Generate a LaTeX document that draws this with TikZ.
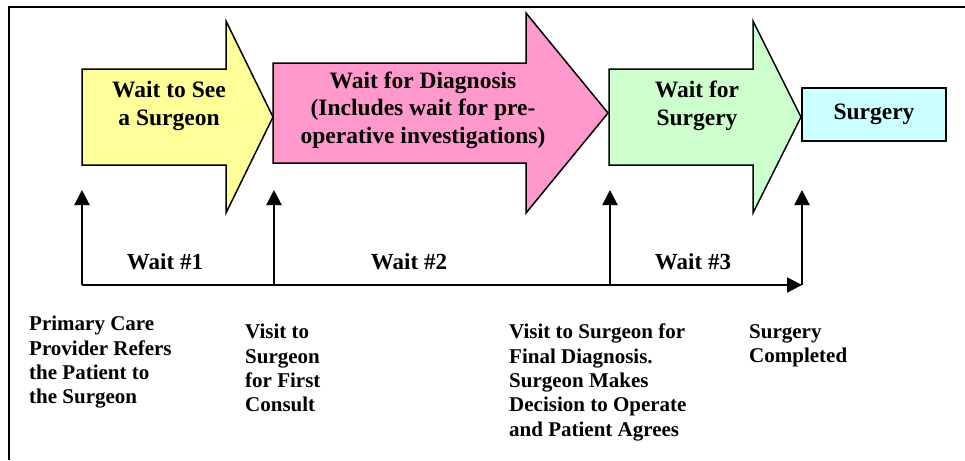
\documentclass[tikz,border=0pt]{standalone}
\usepackage{fontspec}
\setmainfont{Liberation Serif}
\usetikzlibrary{arrows.meta}

\definecolor{seeyellow}{HTML}{FFFF99}
\definecolor{diagpink}{HTML}{FF99CC}
\definecolor{surggreen}{HTML}{CCFFCC}
\definecolor{opcyan}{HTML}{CCFFFF}

\begin{document}
\begin{tikzpicture}[
    x=1pt, y=-1pt,
    stage/.style={
        draw=black, line width=1.5pt,
        line join=miter
    },
    stagetext/.style={
        align=center, inner sep=0pt,
        font=\fontsize{23.5}{27.5}\selectfont\bfseries
    },
    eventtext/.style={
        align=left, inner sep=0pt, anchor=north west,
        font=\fontsize{21}{24.3}\selectfont\bfseries
    },
    waittext/.style={
        anchor=base, inner sep=0pt,
        font=\fontsize{23}{27}\selectfont\bfseries
    },
    timeline/.style={-{Triangle[length=15pt, width=15pt]}, line width=2pt}
]
\useasboundingbox (0,0) rectangle (965,460);

% --- Frame ---
\draw[line width=2pt] (9,460) -- (9,7.5) -- (965,7.5);

% --- Big arrows: the three waits ---
\filldraw[stage, fill=seeyellow] (82,69) -- (226,69) -- (226,21) -- (273,117)
    -- (226,213) -- (226,165) -- (82,165) -- cycle;
\filldraw[stage, fill=diagpink] (273,63) -- (526,63) -- (526,13) -- (608,113)
    -- (526,213) -- (526,163) -- (273,163) -- cycle;
\filldraw[stage, fill=surggreen] (609,69) -- (753,69) -- (753,21) -- (801,117)
    -- (753,213) -- (753,165) -- (609,165) -- cycle;
\node[stage, fill=opcyan, minimum width=144pt, minimum height=53pt,
      inner sep=0pt, font=\fontsize{23.5}{27.5}\selectfont\bfseries]
      (surgery) at (874,114.5) {Surgery};

\node[stagetext] (waitsee) at (169,106) {Wait to See\\a Surgeon};
\node[stagetext] (waitdiag) at (423,110) {Wait for Diagnosis\\(Includes wait for pre-\\operative investigations)};
\node[stagetext] (waitsurg) at (697,106) {Wait for\\Surgery};

% --- Time line with the four events ---
\coordinate (refer) at (82,285);
\coordinate (consult) at (274,285);
\coordinate (decide) at (610,285);
\coordinate (done) at (802,285);
\coordinate (refer up) at (82,190);
\coordinate (consult up) at (274,190);
\coordinate (decide up) at (610,190);
\coordinate (done up) at (802,190);

\draw[timeline] (refer) -- (done);
\draw[timeline] (refer) -- (refer up);
\draw[timeline] (consult) -- (consult up);
\draw[timeline] (decide) -- (decide up);
\draw[timeline] (done) -- (done up);

\node[waittext] (wait1) at (165,269) {Wait \#1};
\node[waittext] (wait2) at (409,269) {Wait \#2};
\node[waittext] (wait3) at (693,269) {Wait \#3};

% --- Event texts ---
\node[eventtext] (refertxt) at (29,316) {Primary Care\\Provider Refers\\the Patient to\\the Surgeon};
\node[eventtext] (consulttxt) at (245,324) {Visit to\\Surgeon\\for First\\Consult};
\node[eventtext] (decidetxt) at (509,324) {Visit to Surgeon for\\Final Diagnosis.\\Surgeon Makes\\Decision to Operate\\and Patient Agrees};
\node[eventtext] (donetxt) at (749,324) {Surgery\\Completed};

\end{tikzpicture}
\end{document}
